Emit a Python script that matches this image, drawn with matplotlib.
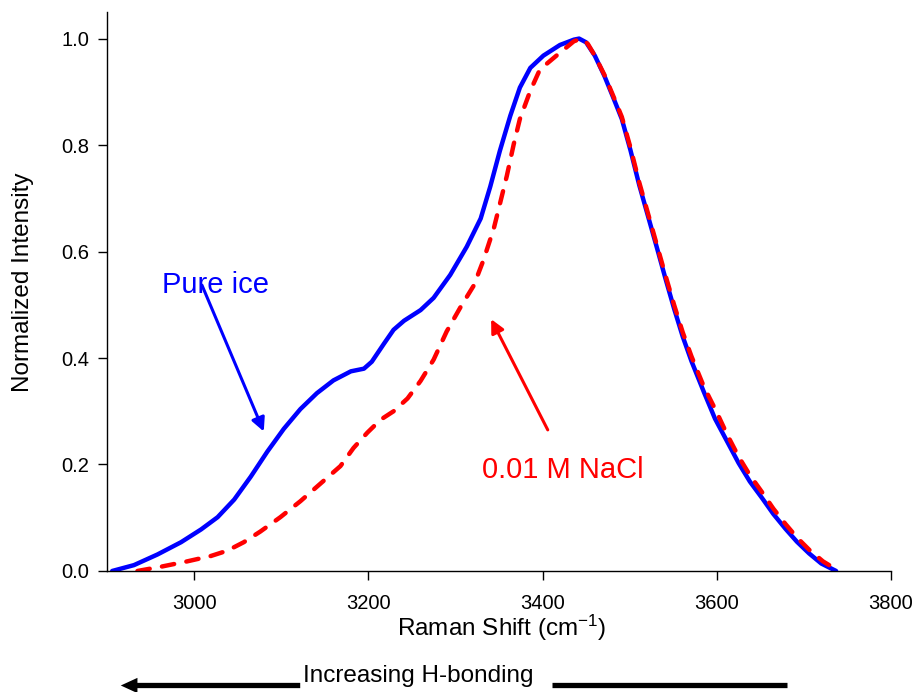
import numpy as np
import matplotlib
matplotlib.use("Agg")
from matplotlib import pyplot as plt
from matplotlib.patches import FancyArrowPatch
from matplotlib.lines import Line2D

plt.rcParams["font.family"] = ["Liberation Sans", "DejaVu Sans"]
plt.rcParams["mathtext.fontset"] = "custom"
plt.rcParams["mathtext.rm"] = "Liberation Sans"
plt.rcParams["mathtext.it"] = "Liberation Sans"

# pure ice spectrum
shift_ice = [2906, 2931, 2958, 2985, 3008, 3027, 3046, 3065, 3084, 3103, 3122,
             3141, 3160, 3180, 3195, 3204, 3218, 3229, 3241, 3260, 3275, 3294,
             3313, 3329, 3340, 3351, 3363, 3374, 3386, 3401, 3420, 3436, 3442,
             3450, 3460, 3471, 3481, 3491, 3501, 3511, 3521, 3531, 3541, 3551,
             3561, 3571, 3585, 3598, 3612, 3625, 3638, 3652, 3665, 3679, 3692,
             3706, 3720, 3737]
int_ice = [0.0, 0.011, 0.031, 0.054, 0.078, 0.101, 0.134, 0.177, 0.224, 0.267, 0.304,
           0.334, 0.358, 0.375, 0.380, 0.393, 0.427, 0.453, 0.470, 0.490, 0.513, 0.556,
           0.609, 0.662, 0.722, 0.789, 0.855, 0.908, 0.945, 0.968, 0.988, 0.998, 1.0,
           0.993, 0.968, 0.93, 0.89, 0.849, 0.79, 0.725, 0.667, 0.609, 0.55, 0.493,
           0.44, 0.394, 0.337, 0.286, 0.243, 0.203, 0.168, 0.137, 0.107, 0.079, 0.055,
           0.033, 0.014, 0.0]

# 0.01 M NaCl spectrum
shift_nacl = [2935, 2962, 2992, 3019, 3038, 3057, 3076, 3099, 3122, 3145, 3168,
              3183, 3199, 3214, 3229, 3245, 3260, 3275, 3290, 3306, 3321, 3332,
              3344, 3351, 3359, 3367, 3374, 3386, 3397, 3416, 3436, 3445,
              3452, 3460, 3471, 3481, 3491, 3501, 3511, 3521, 3531, 3541, 3551,
              3561, 3571, 3585, 3600, 3612, 3625, 3638, 3652, 3665, 3679, 3692,
              3706, 3722, 3740]
int_nacl = [0.0, 0.008, 0.018, 0.028, 0.038, 0.054, 0.074, 0.101, 0.131, 0.164, 0.197,
            0.231, 0.260, 0.284, 0.300, 0.324, 0.357, 0.397, 0.450, 0.496, 0.536, 0.583,
            0.643, 0.689, 0.742, 0.802, 0.849, 0.902, 0.942, 0.968, 0.995, 1.0,
            0.99, 0.968, 0.932, 0.893, 0.853, 0.795, 0.73, 0.672, 0.614, 0.556, 0.50,
            0.448, 0.403, 0.347, 0.298, 0.256, 0.215, 0.18, 0.148, 0.117, 0.088, 0.063,
            0.04, 0.018, 0.0]

xticks = [3000, 3200, 3400, 3600, 3800]
yticks = [0.0, 0.2, 0.4, 0.6, 0.8, 1.0]

fig = plt.figure(figsize=(9.19, 6.92), dpi=100)
ax = fig.add_axes([0.1164, 0.1749, 0.8531, 0.8078])

ax.plot(shift_ice, int_ice, color="#0000ff", lw=3.2, solid_joinstyle="round",
        solid_capstyle="round")
ax.plot(shift_nacl, int_nacl, color="#ff0000", lw=3.2, dashes=(2.8, 2.8),
        dash_capstyle="round", dash_joinstyle="round")

ax.set_xlim(2900, 3800)
ax.set_ylim(0, 1.05)
ax.set_xticks(xticks)
ax.set_yticks(yticks)
ax.set_yticklabels([f"{v:.1f}" for v in yticks])
for s in ("top", "right"):
    ax.spines[s].set_visible(False)
for s in ("left", "bottom"):
    ax.spines[s].set_linewidth(1.0)
ax.tick_params(axis="both", direction="out", length=6.5, width=1.0, labelsize=14.5)
ax.tick_params(axis="y", pad=6.5)
ax.tick_params(axis="x", pad=10)

ax.set_xlabel("Raman Shift (cm$^{-1}$)", fontsize=17.5)
ax.set_ylabel("Normalized Intensity", fontsize=17.5)
ax.xaxis.set_label_coords(0.504, -0.074)
ax.yaxis.set_label_coords(-0.093, 0.516)

# annotations
ax.annotate("", xy=(3080, 0.262), xytext=(3009, 0.537),
            arrowprops=dict(arrowstyle="-|>", color="#0000ff", lw=2.2,
                            mutation_scale=20, shrinkA=0, shrinkB=0))
ax.text(2963, 0.538, "Pure ice", color="#0000ff", fontsize=21, va="center", ha="left")

ax.annotate("", xy=(3341, 0.473), xytext=(3406, 0.265),
            arrowprops=dict(arrowstyle="-|>", color="#ff0000", lw=2.2,
                            mutation_scale=20, shrinkA=0, shrinkB=0))
ax.text(3330, 0.19, "0.01 M NaCl", color="#ff0000", fontsize=21, va="center", ha="left")

# bottom H-bonding indicator
fig.add_artist(FancyArrowPatch((0.3297, 0.0094), (0.1284, 0.0094),
                               transform=fig.transFigure,
                               arrowstyle="simple,head_length=1.2,head_width=1.1,tail_width=0.38",
                               mutation_scale=10, color="black", lw=0))
fig.text(0.3297, 0.01445, "Increasing H-bonding", fontsize=17.5, ha="left", va="baseline")
fig.add_artist(Line2D([0.6007, 0.8564], [0.0094, 0.0094], transform=fig.transFigure,
                      color="black", lw=3.8, solid_capstyle="butt"))

fig.savefig("out.png", dpi=100)
